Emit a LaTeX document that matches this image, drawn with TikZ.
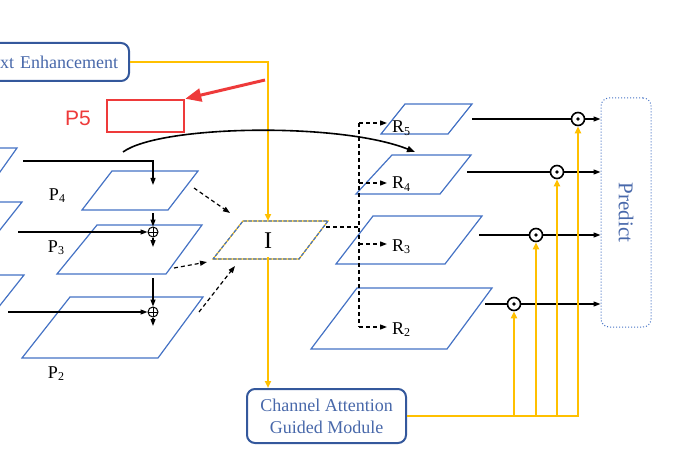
\documentclass[tikz,border=0pt]{standalone}
\usepackage{fontspec}
\setmainfont{Liberation Serif}
\newfontfamily\marksans{Liberation Sans}
\usetikzlibrary{arrows.meta,positioning}

\definecolor{planeblue}{RGB}{68,114,196}
\definecolor{boxblue}{RGB}{52,88,156}
\definecolor{textblue}{RGB}{72,104,170}
\definecolor{gold}{RGB}{255,192,0}
\definecolor{markred}{RGB}{238,58,58}

% level label with lowered small index
\newcommand{\lvl}[2]{#1\raisebox{-0.25ex}{\fontsize{12}{12}\selectfont #2}}

\tikzset{
  plane/.style={draw=planeblue, line width=1.2pt},
  link/.style={line width=1.2pt, -{Triangle[length=7pt,width=5pt]}},
  dlink/.style={link, dash pattern=on 4pt off 3pt},
  goldline/.style={draw=gold, line width=2pt},
  goldarrow/.style={goldline, -{Triangle[length=7pt,width=6pt]}},
  module/.style={draw=boxblue, line width=2pt, rounded corners=8pt, text=textblue,
    font=\fontsize{18}{22}\selectfont, align=center},
  lab/.style={font=\fontsize{18}{20}\selectfont, inner sep=0pt},
  addop/.style={circle, draw, line width=1pt, minimum size=10pt, inner sep=0pt, fill=white,
    path picture={\draw[black, line width=0.8pt] (path picture bounding box.north) -- (path picture bounding box.south)
      (path picture bounding box.west) -- (path picture bounding box.east);}},
  mulop/.style={circle, draw, line width=1.6pt, minimum size=13pt, inner sep=0pt, fill=white,
    path picture={\fill[black] (path picture bounding box.center) circle (1.8pt);}},
}

\begin{document}
\begin{tikzpicture}[x=1pt,y=-1pt]
  \useasboundingbox (0,0) rectangle (693,457);
  \clip (0,0) rectangle (693,457);

  % planes cut by the left edge
  \draw[plane] (-80,186) -- (-10,186) -- (17,148) -- (-60,148) -- cycle;
  \draw[plane] (-80,240) -- (-8,240) -- (22,202) -- (-60,202) -- cycle;
  \draw[plane] (-80,318) -- (-10,318) -- (24,275) -- (-60,275) -- cycle;

  % pyramid levels
  \draw[plane] (82,210) -- (168,210) -- (198,171) -- (112,171) -- cycle;
  \draw[plane] (57,274) -- (166,274) -- (202,225) -- (97,225) -- cycle;
  \draw[plane] (22,358) -- (158,358) -- (203,297) -- (70,297) -- cycle;
  \node[lab] (p4lab) at (57,196) {\lvl{P}{4}};
  \node[lab] (p3lab) at (56,248) {\lvl{P}{3}};
  \node[lab] (p2lab) at (56,374) {\lvl{P}{2}};

  \node[addop] (add3) at (153,232) {};
  \node[addop] (add2) at (153,312) {};
  \coordinate (l4) at (23,161);
  \coordinate (l3) at (18,232);
  \coordinate (l2) at (8,312);
  \coordinate (p4in) at (153,185);
  \coordinate (p4out) at (153,213);
  \coordinate (p3in) at (153,247);
  \coordinate (p3out) at (153,278);
  \coordinate (p2in) at (153,326);
  \draw[link] (l4) -| (p4in);
  \draw[link] (l3) -- (add3);
  \draw[link] (l2) -- (add2);
  \draw[link] (p4out) -- (add3);
  \draw[link] (add3) -- (p3in);
  \draw[link] (p3out) -- (add2);
  \draw[link] (add2) -- (p2in);

  % fused map I
  \draw[gold, line width=1.2pt] (213,259) -- (299,259) -- (328,221) -- (243,221) -- cycle;
  \draw[planeblue, line width=1.2pt, dash pattern=on 3.5pt off 1.5pt] (213,259) -- (299,259) -- (328,221) -- (243,221) -- cycle;
  \node[font=\fontsize{24}{24}\selectfont, inner sep=0pt] (inode) at (268,241) {I};
  \coordinate (itop) at (268,221);
  \coordinate (ibot) at (268,257);
  \coordinate (iright) at (326,227);
  \draw[dlink] (194,188) -- (230,213);
  \draw[dlink] (174,268) -- (207,262);
  \draw[dlink] (199,312) -- (235,266);

  % modules
  \node[module, anchor=east, minimum height=38pt, text width=140pt, align=right, inner xsep=11pt] (enh) at (130,62) {xt Enhancement};
  \node[module, minimum width=159pt, minimum height=54pt] (cagm) at (326.5,416) {Channel Attention\\Guided Module};
  \node[draw=planeblue, dotted, line width=1pt, rounded corners=8pt, minimum width=50pt, minimum height=229pt] (predict) at (626,212.5) {};
  \node[rotate=-90, text=textblue, font=\fontsize{21}{21}\selectfont] (predlab) at (predict.center) {Predict};

  \draw[goldarrow] (enh.east) -| (itop);
  \draw[goldarrow] (ibot) -- (ibot |- cagm.north);

  % refined levels
  \draw[plane] (381,134) -- (448,134) -- (472,104) -- (405,104) -- cycle;
  \draw[plane] (356,194) -- (440,194) -- (471,155) -- (392,155) -- cycle;
  \draw[plane] (336,264) -- (445,264) -- (482,216) -- (373,216) -- cycle;
  \draw[plane] (311,349) -- (447,349) -- (492,288) -- (357,288) -- cycle;
  \node[lab, anchor=base west] (r5lab) at (392,133) {\lvl{R}{5}};
  \node[lab, anchor=base west] (r4lab) at (392,189) {\lvl{R}{4}};
  \node[lab, anchor=base west] (r3lab) at (392,251) {\lvl{R}{3}};
  \node[lab, anchor=base west] (r2lab) at (392,334) {\lvl{R}{2}};

  \coordinate (split) at (359,227);
  \coordinate (bustop) at (359,123);
  \coordinate (busbot) at (359,327);
  \coordinate (r5in) at (387,123);
  \coordinate (r4in) at (387,183);
  \coordinate (r3in) at (387,244);
  \coordinate (r2in) at (387,327);
  \draw[dash pattern=on 4pt off 3pt, line width=1.2pt] (iright) -- (split);
  \draw[dash pattern=on 4pt off 3pt, line width=1.2pt] (bustop) -- (busbot);
  \draw[dlink] (bustop) -- (r5in);
  \draw[dlink] (bustop |- r4in) -- (r4in);
  \draw[dlink] (bustop |- r3in) -- (r3in);
  \draw[dlink] (busbot) -- (r2in);

  % skip from P5 to R4
  \coordinate (skipa) at (123,152);
  \coordinate (skipb) at (415,152);
  \draw[line width=1.6pt, -{Triangle[length=8pt,width=6pt]}] (skipa) .. controls (160,125) and (340,122) .. (skipb);

  % channel weights
  \node[mulop] (m5) at (578,119) {};
  \node[mulop] (m4) at (557,172) {};
  \node[mulop] (m3) at (536,235) {};
  \node[mulop] (m2) at (514,304) {};
  \coordinate (r5out) at (472,119);
  \coordinate (r4out) at (467,172);
  \coordinate (r3out) at (479,235);
  \coordinate (r2out) at (485,304);
  \foreach \k in {2,3,4,5} {
    \draw[line width=1.2pt] (r\k out) -- (m\k);
    \draw[link] (m\k) -- (m\k -| predict.west);
    \draw[goldarrow] (cagm.east) -| (m\k.south);
  }

  % P5 mark
  \node[draw=markred, line width=2.5pt, minimum width=77pt, minimum height=32pt] (p5box) at (145.5,116) {};
  \node[text=markred, font=\marksans\fontsize{21}{21}\selectfont, inner sep=0pt] (p5lab) at (78,118) {P5};
  \draw[markred, line width=3pt, -{Triangle[length=16pt,width=13pt]}] (265,80) -- (p5box.north east);
\end{tikzpicture}
\end{document}
